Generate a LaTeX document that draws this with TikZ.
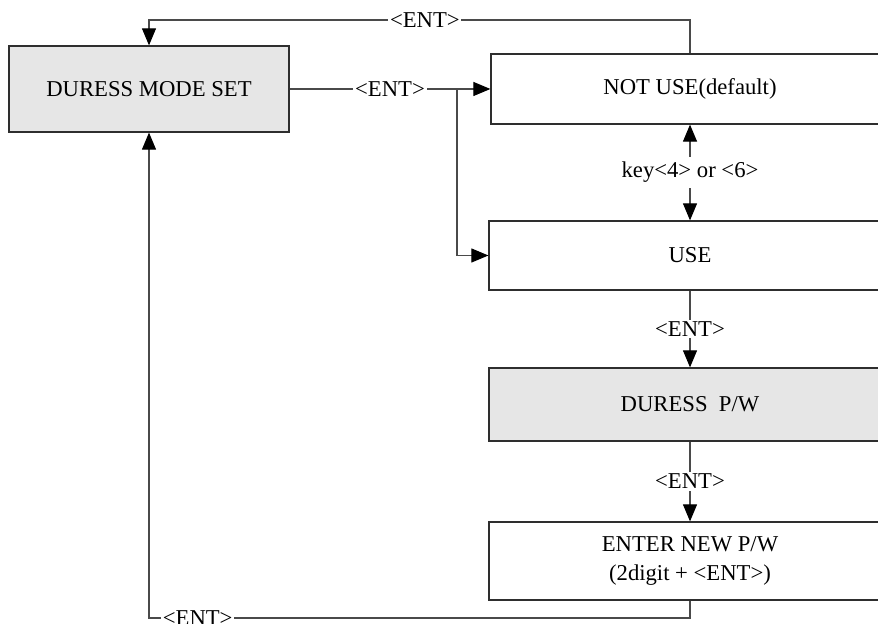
\documentclass[tikz,border=0pt]{standalone}
\usepackage{fontspec}
\setmainfont{Liberation Serif}
\usetikzlibrary{arrows.meta, positioning, calc}
\definecolor{c1}{HTML}{2E2E2E}
\definecolor{c2}{HTML}{4A4A4A}
\definecolor{shade}{HTML}{E6E6E6}

\begin{document}
\begin{tikzpicture}[
    every node/.style={font=\fontsize{12.9}{16.5}\selectfont},
    blk/.style={rectangle, draw=c1, fill=white, line width=0.7pt,
                inner sep=0pt, align=center, text=black},
    gblk/.style={blk, fill=shade},
    lab/.style={fill=white, inner sep=1pt, text=black},
    arr/.style={-{Triangle[length=0.34cm, width=0.28cm, color=black]}, line width=0.6pt, color=c2},
    dbl/.style={{Triangle[length=0.34cm, width=0.28cm, color=black]}-{Triangle[length=0.34cm, width=0.28cm, color=black]},
                line width=0.6pt, color=c2},
]
\useasboundingbox (0,0) rectangle (17.56,12.48);

% the menu entry
\node[gblk, minimum width=5.6cm, minimum height=1.72cm] (dms) at (2.98, 10.70) {DURESS MODE SET};

% the two choices
\node[blk, minimum width=7.96cm, minimum height=1.40cm] (notuse) at (13.80, 10.70) {NOT USE(default)};
\node[blk, minimum width=8.04cm, minimum height=1.38cm] (use) at (13.80, 7.37) {USE};

% password entry
\node[gblk, minimum width=8.04cm, minimum height=1.46cm] (pw) at (13.80, 4.39) {DURESS~~P/W};
\node[blk, minimum width=8.04cm, minimum height=1.56cm] (newpw) at (13.80, 1.26)
    {ENTER NEW P/W\\(2digit + <ENT>)};

\coordinate (topR) at (notuse.north |- 0, 12.08);
\coordinate (topL) at (dms.north |- 0, 12.08);
\coordinate (br) at (9.14, 10.70);
\coordinate (botR) at (newpw.south |- 0, 0.12);
\coordinate (botL) at (dms.south |- 0, 0.12);

% connectors
\draw[arr] (notuse.north) -- (topR) -- node[lab, pos=0.49] {<ENT>} (topL) -- (dms.north);
\draw[arr] (dms.east) -- node[lab] {<ENT>} (notuse.west);
\draw[arr] (br) |- (use.west);
\draw[dbl] (notuse.south) -- node[lab, inner sep=3pt] {key<4> or <6>} (use.north);
\draw[arr] (use.south) -- node[lab] {<ENT>} (pw.north);
\draw[arr] (pw.south) -- node[lab] {<ENT>} (newpw.north);
\draw[arr] (newpw.south) -- (botR) -- node[lab, pos=0.91] {<ENT>} (botL) -- (dms.south);
\end{tikzpicture}
\end{document}
